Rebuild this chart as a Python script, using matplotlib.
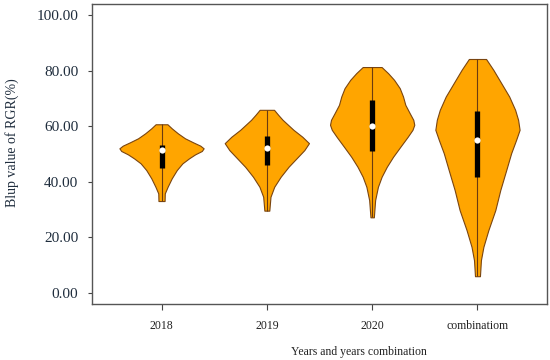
import numpy as np
import matplotlib.pyplot as plt

# groups on the x axis
labels = ['2018', '2019', '2020', 'combinatiom']

# violin outlines: y values (top to bottom) and relative half widths
y_2018 = [60.7, 59.25, 57.45, 55.65, 54.2, 53.0, 52.04, 51.08, 49.88, 48.44, 46.64, 44.23,
          41.23, 38.22, 35.82, 33.06]
w_2018 = [5.8, 10, 16, 23, 31, 38, 41.3, 39.5, 33, 27, 20.5, 15, 10, 6, 3.2, 3]

y_2019 = [65.9, 64.1, 62.3, 60.5, 58.7, 56.2, 53.9, 51.4, 48.4, 45.4, 41.8, 38.2, 34.6, 29.6]
w_2019 = [7.3, 11.5, 16, 21.5, 27, 36, 42.7, 38, 30, 22, 14, 7.5, 3.7, 2.5]

y_2020 = [81.3, 79.1, 76.7, 73.7, 70.7, 67.7, 64.7, 62.3, 60.5, 58.7, 56.2, 52.6, 49.0,
          45.4, 41.8, 38.2, 33.4, 27.2]
w_2020 = [9.5, 16, 22, 27.7, 31, 33.3, 37.7, 41.3, 42.3, 40.5, 35.7, 28.3, 21, 14.7, 9.5,
          5.8, 3, 1.7]

y_comb = [84.2, 80.3, 75.5, 70.7, 65.9, 62.3, 58.7, 55.1, 50.3, 44.2, 37.0, 29.8, 22.6,
          16.6, 11.8, 6.0]
w_comb = [8.7, 16, 24, 32, 38, 41, 42.5, 39, 34, 29, 23, 18, 11, 6, 3.5, 2.5]

# box (quartiles) and medians
q1 = [45.1, 46.0, 51.2, 41.6]
q3 = [53.2, 56.5, 69.5, 65.3]
medians = [51.5, 52.3, 60.1, 55.0]

ys = [y_2018, y_2019, y_2020, y_comb]
ws = [w_2018, w_2019, w_2020, w_comb]

plt.rcParams['font.family'] = ['Liberation Serif', 'DejaVu Serif']

fig = plt.figure(figsize=(5.5, 3.6), dpi=100)
ax = fig.add_axes([0.1673, 0.1556, 0.8272, 0.8333])

pos = np.arange(1, len(labels) + 1)
stats = []
for y, w, m in zip(ys, ws, medians):
    y = np.array(y[::-1])
    w = np.array(w[::-1], dtype=float)
    stats.append({'coords': y, 'vals': w, 'mean': m, 'median': m,
                  'min': y.min(), 'max': y.max()})

parts = ax.violin(stats, positions=pos, widths=0.8,
                  showmeans=False, showextrema=False, showmedians=False)
for b in parts['bodies']:
    b.set_facecolor('#FFA500')
    b.set_edgecolor('#7a4510')
    b.set_linewidth(0.8)
    b.set_alpha(1)

mins = [min(y) for y in ys]
maxs = [max(y) for y in ys]
ax.vlines(pos, mins, maxs, color='#6b3a10', lw=0.8, zorder=3)
ax.vlines(pos, q1, q3, color='black', lw=3.8, zorder=4, capstyle='butt')
ax.scatter(pos, medians, s=20, color='white', zorder=5, linewidths=0)

ax.set_xlim(0.34, 4.66)
ax.set_ylim(-4, 104)
ax.set_yticks([0, 20, 40, 60, 80, 100])
ax.set_yticklabels(['%.2f' % v for v in [0, 20, 40, 60, 80, 100]], fontsize=11, color='#1f2d3d')
ax.set_xticks(pos)
ax.set_xticklabels(labels, fontsize=8.5, color='#222222')
ax.tick_params(axis='y', length=3, pad=7, color='#444444')
ax.tick_params(axis='x', length=4.5, pad=7, color='#444444')
for s in ax.spines.values():
    s.set_color('#555555')
    s.set_linewidth(1)

fig.text(0.022, 0.603, 'Blup value of RGR(%)', rotation=90, fontsize=10,
         ha='center', va='center', color='#1f2d3d')
fig.text(0.653, 0.022, 'Years and years combination', fontsize=8.5,
         ha='center', va='center', color='#222222')

fig.savefig('out.png', dpi=100)
